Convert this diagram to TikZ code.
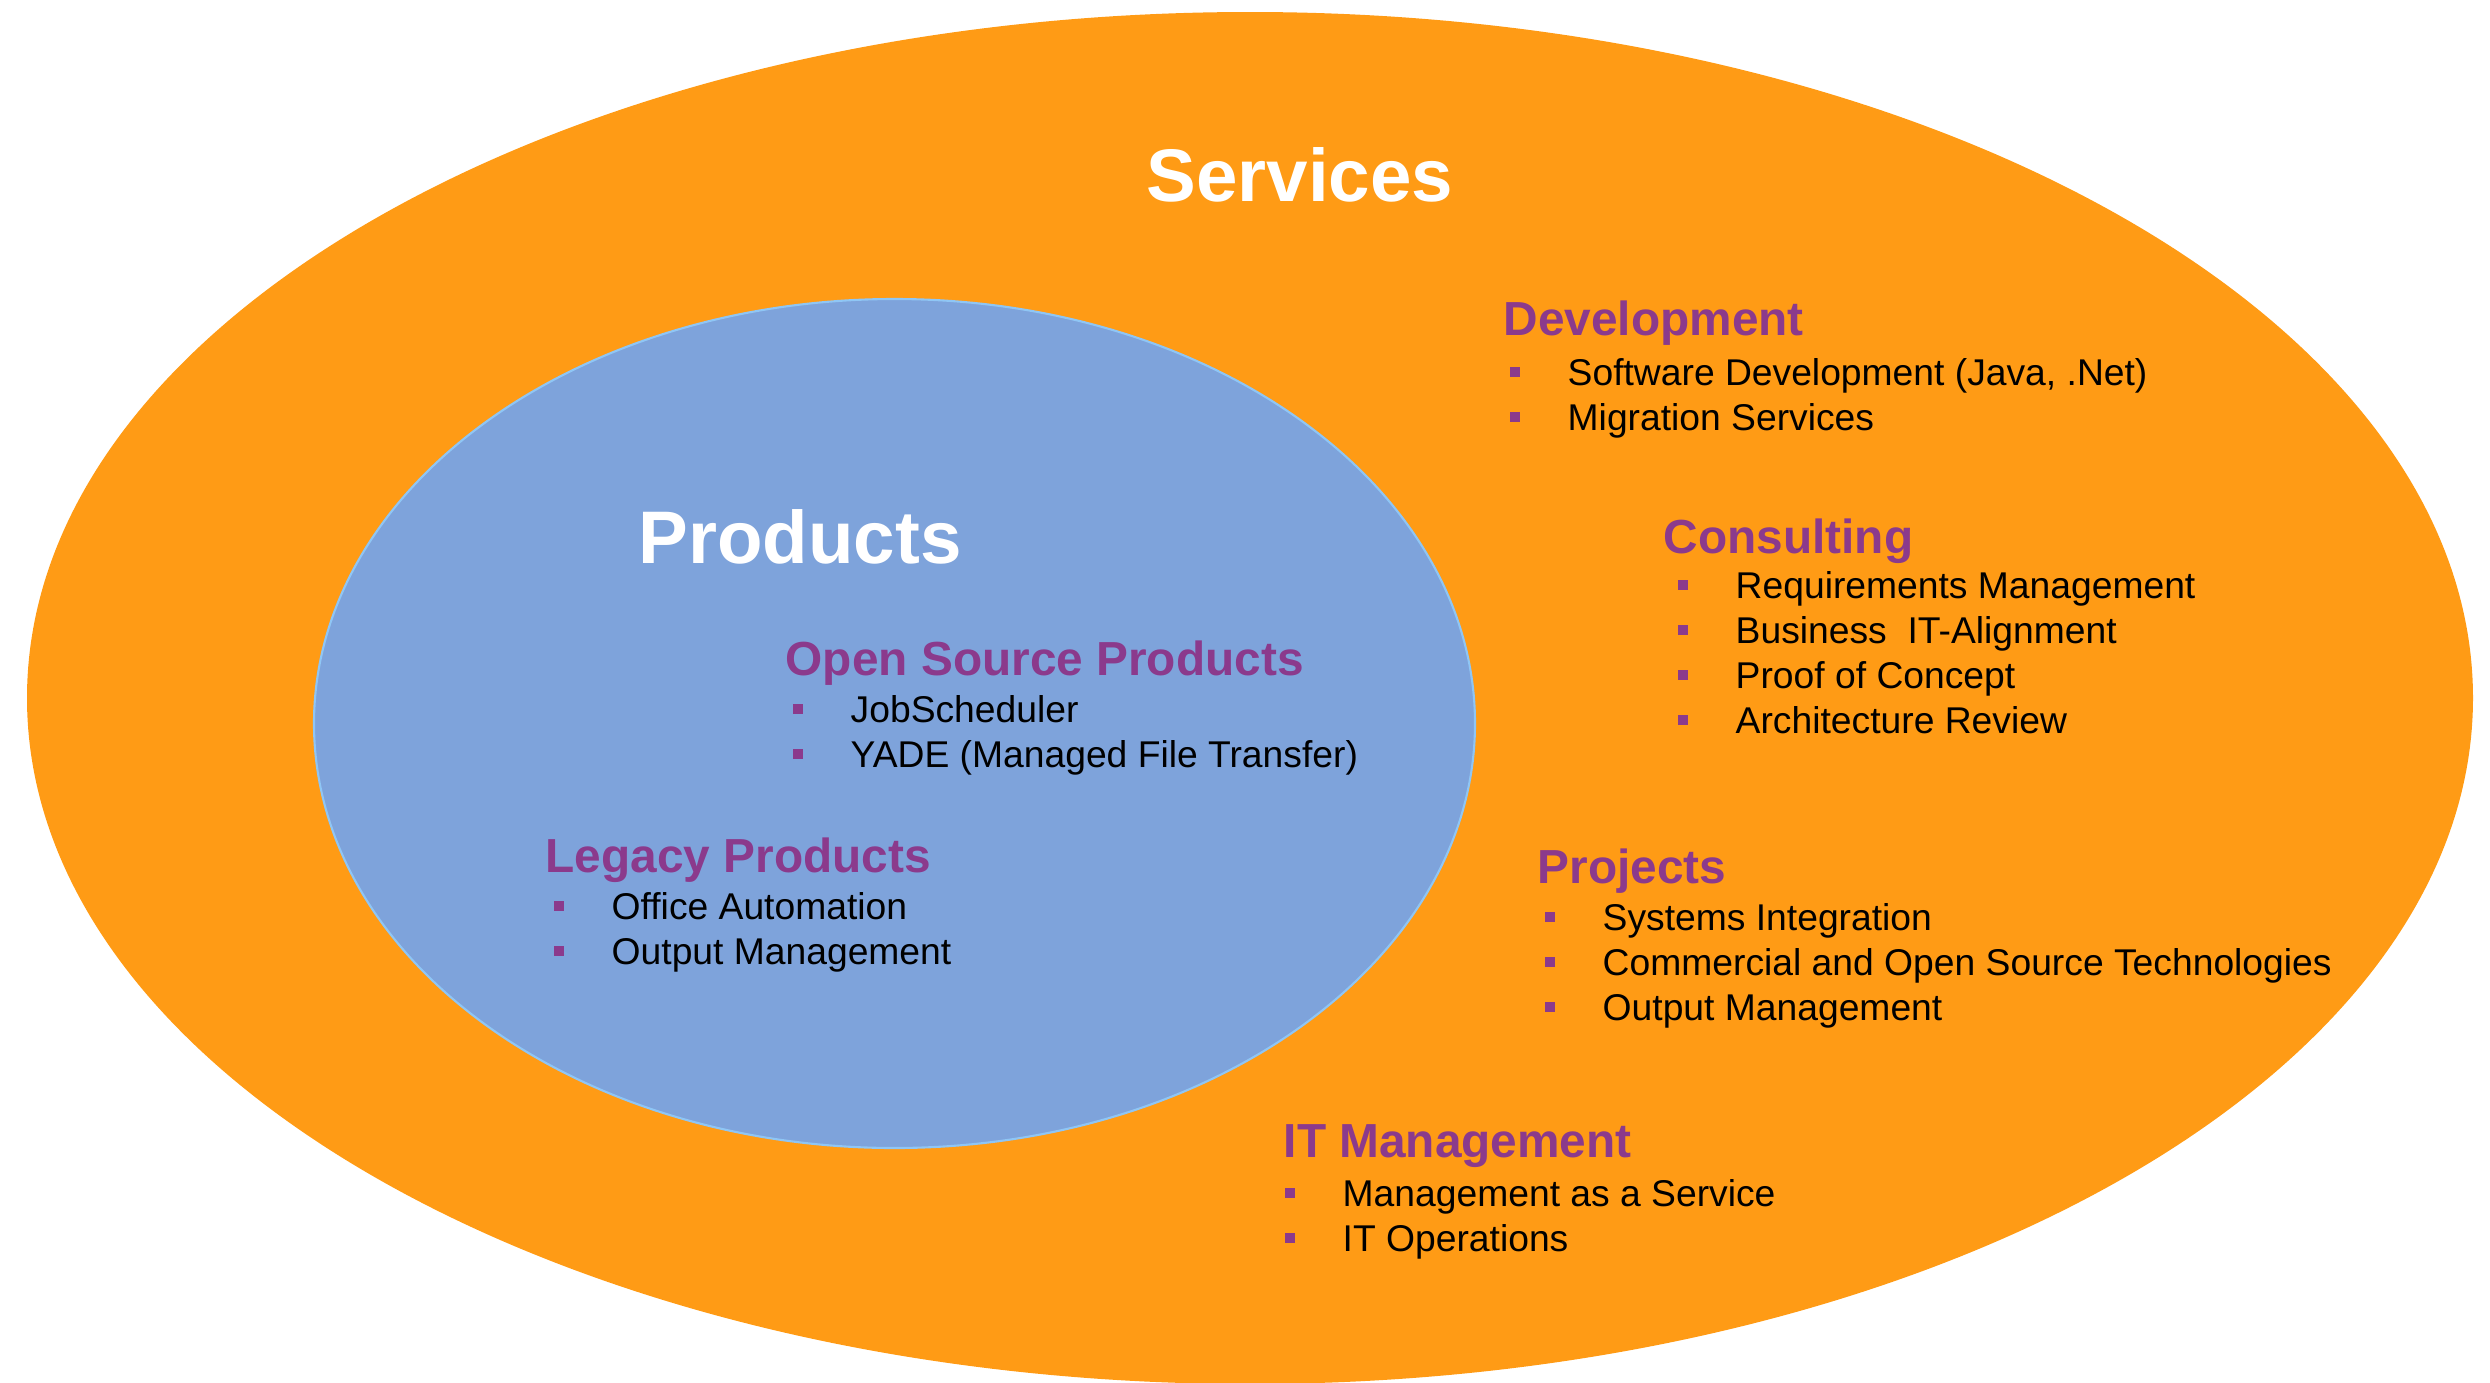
\documentclass[tikz,border=0pt]{standalone}
\usepackage{fontspec}
\setmainfont{Liberation Sans}
\definecolor{servorange}{HTML}{FF9B15}
\definecolor{prodblue}{HTML}{7EA3DB}
\definecolor{prodedge}{HTML}{8FC6F5}
\definecolor{headpurple}{HTML}{8B3A8C}
\begin{document}
\begin{tikzpicture}[
    title/.style = {
      anchor = base,
      text = white,
      inner sep = 0pt,
      font = \bfseries\fontsize{21.2}{25}\selectfont
    },
    head/.style = {
      anchor = base west,
      text = headpurple,
      inner sep = 0pt,
      font = \bfseries\fontsize{13.6}{16}\selectfont
    },
    item/.style = {
      anchor = base west,
      inner sep = 0pt,
      font = \fontsize{10.6}{13}\selectfont
    },
    bullet/.style = {
      shape = rectangle,
      fill = headpurple,
      minimum size = 0.1cm,
      inner sep = 0pt,
      outer sep = 0pt
    }
  ]
    \useasboundingbox (0, 0) rectangle (24.90, -13.82);
    \fill[servorange] (12.50, -6.98) ellipse (12.23cm and 6.86cm);
    \draw[draw = prodedge, fill = prodblue, line width = 0.6pt] (8.945, -7.235) ellipse (5.805cm and 4.245cm);

    \node[title] (services) at (13.00, -2.01) {Services};
    \node[title] (products) at (8.00, -5.63) {Products};

    % products
    \node[head] (open) at (7.85, -6.75) {Open Source Products};
    \foreach \txt [count=\i] in {JobScheduler, YADE (Managed File Transfer)} {
      \node[item] (open\i) at (8.50, -6.77 - 0.45*\i) {\txt};
      \node[bullet] (openb\i) at ([xshift = -0.52cm, yshift = 0.13cm] open\i.base west) {};
    }
    \node[head] (legacy) at (5.45, -8.72) {Legacy Products};
    \foreach \txt [count=\i] in {Office Automation, Output Management} {
      \node[item] (legacy\i) at (6.11, -8.74 - 0.45*\i) {\txt};
      \node[bullet] (legacyb\i) at ([xshift = -0.52cm, yshift = 0.13cm] legacy\i.base west) {};
    }

    % services
    \node[head] (dev) at (15.03, -3.35) {Development};
    \foreach \txt [count=\i] in {{Software Development (Java, .Net)}, Migration Services} {
      \node[item] (dev\i) at (15.67, -3.40 - 0.45*\i) {\txt};
      \node[bullet] (devb\i) at ([xshift = -0.52cm, yshift = 0.13cm] dev\i.base west) {};
    }
    \node[head] (cons) at (16.63, -5.53) {Consulting};
    \foreach \txt [count=\i] in {Requirements Management, Business~ IT-Alignment, Proof of Concept, Architecture Review} {
      \node[item] (cons\i) at (17.35, -5.53 - 0.45*\i) {\txt};
      \node[bullet] (consb\i) at ([xshift = -0.52cm, yshift = 0.13cm] cons\i.base west) {};
    }
    \node[head] (proj) at (15.37, -8.83) {Projects};
    \foreach \txt [count=\i] in {Systems Integration, Commercial and Open Source Technologies, Output Management} {
      \node[item] (proj\i) at (16.02, -8.85 - 0.45*\i) {\txt};
      \node[bullet] (projb\i) at ([xshift = -0.52cm, yshift = 0.13cm] proj\i.base west) {};
    }
    \node[head] (itm) at (12.83, -11.57) {IT Management};
    \foreach \txt [count=\i] in {Management as a Service, IT Operations} {
      \node[item] (itm\i) at (13.42, -11.61 - 0.45*\i) {\txt};
      \node[bullet] (itmb\i) at ([xshift = -0.52cm, yshift = 0.13cm] itm\i.base west) {};
    }
  \end{tikzpicture}
\end{document}
